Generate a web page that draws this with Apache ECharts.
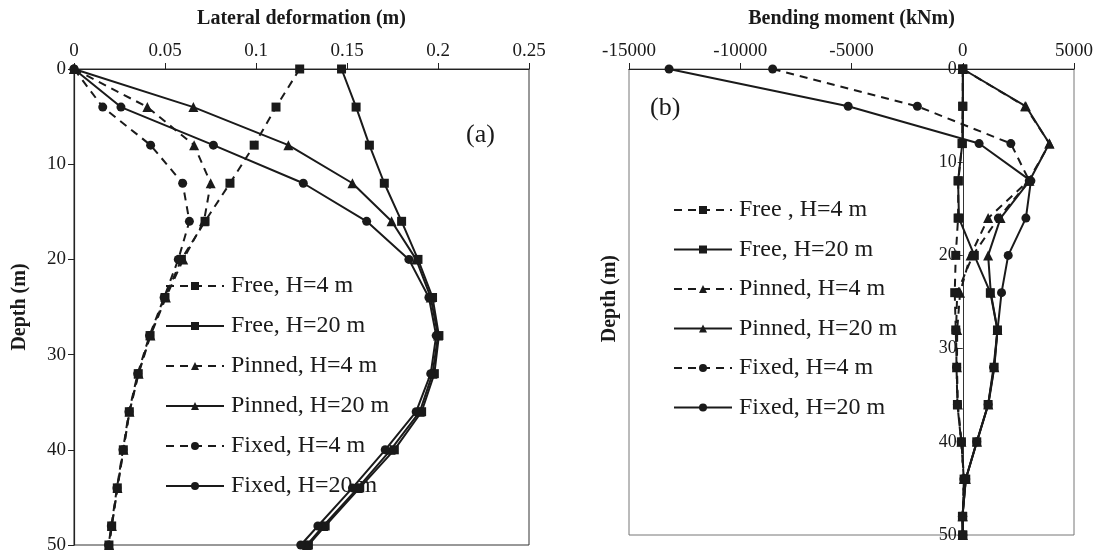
<!DOCTYPE html>
<html>
<head>
<meta charset="utf-8">
<script src="https://cdn.jsdelivr.net/npm/echarts@6/dist/echarts.min.js"></script>
<style>
  html, body { margin: 0; padding: 0; background: #fff; }
  #chart { width: 1099px; height: 556px; }
</style>
</head>
<body>
<div id="chart"></div>
<script>
// Depths (m) at which the pile response was sampled
const depths = [0, 4, 8, 12, 16, 20, 24, 28, 32, 36, 40, 44, 48, 50];

// (a) Lateral deformation (m)
const freeH4Defl    = [0.124, 0.111, 0.099, 0.0857, 0.072, 0.059, 0.050, 0.0418, 0.0353, 0.0304, 0.0271, 0.0238, 0.0207, 0.0192];
const freeH20Defl   = [0.147, 0.155, 0.1623, 0.1705, 0.180, 0.189, 0.197, 0.2005, 0.198, 0.191, 0.176, 0.157, 0.138, 0.1288];
const pinnedH4Defl  = [0, 0.0403, 0.066, 0.0751, 0.0714, 0.060, 0.0505, 0.042, 0.0355, 0.0305, 0.0272, 0.0239, 0.0208, 0.0193];
const pinnedH20Defl = [0, 0.0656, 0.1178, 0.153, 0.1745, 0.188, 0.196, 0.200, 0.197, 0.190, 0.174, 0.156, 0.137, 0.128];
const fixedH4Defl   = [0, 0.0158, 0.0421, 0.0597, 0.0634, 0.0573, 0.0495, 0.0415, 0.035, 0.0302, 0.0269, 0.0236, 0.0205, 0.019];
const fixedH20Defl  = [0, 0.0258, 0.0766, 0.126, 0.1608, 0.184, 0.195, 0.199, 0.196, 0.188, 0.171, 0.153, 0.134, 0.1246];

// (b) Bending moment (kNm)
const freeH4Mom    = [0, 0, -30, -200, -210, -315, -360, -315, -270, -240, -60, 60, 0, 0];
const freeH20Mom   = [0, 0, -20, -210, -170, 520, 1240, 1560, 1410, 1140, 630, 135, -15, 0];
const pinnedH4Mom  = [0, 2800, 3900, 2950, 1141, 350, -120, -250, -260, -220, -60, 50, 0, 0];
const pinnedH20Mom = [0, 2838, 3890, 3000, 1700, 1141, 1260, 1560, 1420, 1150, 640, 140, -10, 0];
const fixedH4Mom   = [-8545, -2040, 2162, 2990, 1600, 450, -250, -300, -280, -240, -70, 50, 0, 0];
const fixedH20Mom  = [-13200, -5150, 735, 3063, 2838, 2043, 1743, 1563, 1383, 1141, 630, 135, -15, 0];

// Axis ranges
const deflRange = [0, 0.25, 0.05];
const momRange = [-15000, 5000, 5000];
const depthRange = [0, 50, 10];

// Legend names
const namesA = ['Free, H=4 m', 'Free, H=20 m', 'Pinned, H=4 m', 'Pinned, H=20 m', 'Fixed, H=4 m', 'Fixed, H=20 m'];
const namesB = ['Free , H=4 m', 'Free, H=20 m', 'Pinned, H=4 m', 'Pinned, H=20 m', 'Fixed, H=4 m', 'Fixed, H=20 m'];

const SERIF = '"Liberation Serif", "Times New Roman", serif';
const INK = '#1a1a1a';

// Plot boxes (px)
const boxA = { left: 74, top: 69, width: 455, height: 476 };
const boxB = { left: 629, top: 69, width: 445, height: 466 };

// Style per curve: dashed for H=4 m, solid for H=20 m; marker by head condition
const styles = [
  { dash: true,  symbol: 'rect',     size: 9 },
  { dash: false, symbol: 'rect',     size: 9 },
  { dash: true,  symbol: 'triangle', size: 10 },
  { dash: false, symbol: 'triangle', size: 10 },
  { dash: true,  symbol: 'circle',   size: 9 },
  { dash: false, symbol: 'circle',   size: 9 }
];

function makeSeries(name, values, st, idx) {
  return {
    type: 'line',
    name: name,
    xAxisIndex: idx,
    yAxisIndex: idx,
    data: values.map((v, i) => [v, depths[i]]),
    symbol: st.symbol,
    symbolSize: st.size,
    showAllSymbol: true,
    itemStyle: { color: INK },
    lineStyle: { color: INK, width: 2, type: st.dash ? [8, 6] : 'solid' },
    animation: false,
    z: 3
  };
}

const defl = [freeH4Defl, freeH20Defl, pinnedH4Defl, pinnedH20Defl, fixedH4Defl, fixedH20Defl];
const mom = [freeH4Mom, freeH20Mom, pinnedH4Mom, pinnedH20Mom, fixedH4Mom, fixedH20Mom];

const series = [];
defl.forEach((d, i) => series.push(makeSeries(namesA[i], d, styles[i], 0)));
mom.forEach((d, i) => series.push(makeSeries(namesB[i], d, styles[i], 1)));

const plain = v => String(v);
const tickFont = { fontFamily: SERIF, fontSize: 19, color: INK, formatter: plain };
const axisLine = { show: true, onZero: false, lineStyle: { color: '#222', width: 1.2 } };
const titleFont = { fontFamily: SERIF, fontSize: 20, fontWeight: 'bold', color: INK };

const legendBase = {
  orient: 'vertical',
  itemWidth: 58,
  itemHeight: 10,
  itemGap: 14,
  textStyle: { fontFamily: SERIF, fontSize: 24, color: INK, lineHeight: 26, padding: [0, 0, 0, 2] },
  inactiveColor: '#999'
};

// The depth axis of (b) sits on the zero-moment line
const zeroOffsetB = -boxB.width * (0 - momRange[0]) / (momRange[1] - momRange[0]);

const option = {
  backgroundColor: '#fff',
  animation: false,
  grid: [
    Object.assign({ show: true, borderColor: '#333', borderWidth: 1 }, boxA),
    Object.assign({ show: true, borderColor: '#777', borderWidth: 1 }, boxB)
  ],
  xAxis: [
    {
      gridIndex: 0, type: 'value', position: 'top',
      min: deflRange[0], max: deflRange[1], interval: deflRange[2],
      name: 'Lateral deformation (m)', nameLocation: 'middle', nameGap: 40,
      nameTextStyle: titleFont,
      axisLine: axisLine,
      axisTick: { show: true, inside: false, length: 6, lineStyle: { color: '#222' } },
      axisLabel: Object.assign({ margin: 8 }, tickFont),
      splitLine: { show: false }
    },
    {
      gridIndex: 1, type: 'value', position: 'top',
      min: momRange[0], max: momRange[1], interval: momRange[2],
      name: 'Bending moment (kNm)', nameLocation: 'middle', nameGap: 40,
      nameTextStyle: titleFont,
      axisLine: axisLine,
      axisTick: { show: true, inside: false, length: 6, lineStyle: { color: '#222' } },
      axisLabel: Object.assign({ margin: 8 }, tickFont),
      splitLine: { show: false }
    }
  ],
  yAxis: [
    {
      gridIndex: 0, type: 'value', inverse: true,
      min: depthRange[0], max: depthRange[1], interval: depthRange[2],
      name: 'Depth (m)', nameLocation: 'middle', nameGap: 44,
      nameTextStyle: titleFont,
      axisLine: axisLine,
      axisTick: { show: true, inside: false, length: 6, lineStyle: { color: '#222' } },
      axisLabel: Object.assign({ margin: 8 }, tickFont),
      splitLine: { show: false }
    },
    {
      gridIndex: 1, type: 'value', inverse: true, position: 'left', offset: zeroOffsetB,
      min: depthRange[0], max: depthRange[1], interval: depthRange[2],
      axisLine: { show: true, onZero: false, lineStyle: { color: '#333', width: 1 } },
      axisTick: { show: true, inside: false, length: 5, lineStyle: { color: '#333' } },
      axisLabel: Object.assign({ margin: 6 }, tickFont, { fontSize: 18 }),
      splitLine: { show: false },
      z: 1
    }
  ],
  legend: [
    Object.assign({ left: 160, top: 268, data: namesA }, legendBase),
    Object.assign({ left: 668, top: 192, data: namesB }, legendBase, { itemGap: 13.5 })
  ],
  graphic: [
    { type: 'text', left: 466, top: 122, style: { text: '(a)', font: '26px ' + SERIF, fill: INK } },
    { type: 'text', left: 650, top: 95, style: { text: '(b)', font: '26px ' + SERIF, fill: INK } },
    { type: 'text', left: 600, top: 255, rotation: Math.PI / 2,
      style: { text: 'Depth (m)', font: 'bold 20px ' + SERIF, fill: INK } }
  ],
  series: series
};

const chart = echarts.init(document.getElementById('chart'), null, { renderer: 'canvas' });
chart.setOption(option);
</script>
</body>
</html>
